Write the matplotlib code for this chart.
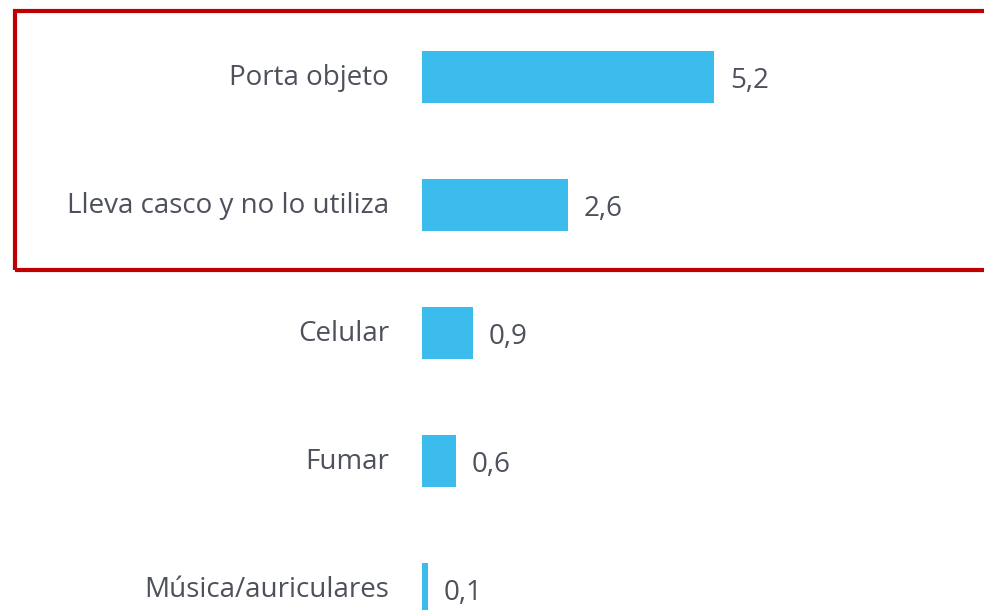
import matplotlib
matplotlib.use("Agg")
import matplotlib.pyplot as plt
from matplotlib.patches import Rectangle

categories = ["Porta objeto", "Lleva casco y no lo utiliza", "Celular", "Fumar", "Música/auriculares"]
values = [5.2, 2.6, 0.9, 0.6, 0.1]
value_labels = ["5,2", "2,6", "0,9", "0,6", "0,1"]

BAR_COLOR = "#3BBCEC"
TEXT_COLOR = "#4D515B"
FRAME_COLOR = "#C00000"

plt.rcParams["font.family"] = ["Open Sans", "DejaVu Sans"]

W, H = 984, 610
fig = plt.figure(figsize=(W / 100, H / 100), dpi=100)
ax = fig.add_axes([422 / W, 0, 1 - 422 / W, 1])

ypos = list(range(len(categories)))
ax.barh(ypos, values, height=0.406, color=BAR_COLOR)
ax.set_xlim(0, 10.01)
ax.set_ylim((610 - 77) / 128, -77 / 128)
ax.axis("off")

fs = 20
for y, cat, v, lab in zip(ypos, categories, values, value_labels):
    ax.annotate(cat, xy=(0, y), xytext=(-33, -1), textcoords="offset pixels",
                ha="right", va="center", fontsize=fs, color=TEXT_COLOR)
    ax.annotate(lab, xy=(v, y), xytext=(16, -4), textcoords="offset pixels",
                ha="left", va="center", fontsize=fs, color=TEXT_COLOR)

# highlight frame around the two leading categories
frame = Rectangle((15 / W, 1 - 269.5 / H), (W + 10 - 15) / W, (269.5 - 10.5) / H,
                  transform=fig.transFigure, fill=False, edgecolor=FRAME_COLOR,
                  linewidth=3.0, clip_on=False)
fig.add_artist(frame)

fig.savefig("out.png", dpi=100)
